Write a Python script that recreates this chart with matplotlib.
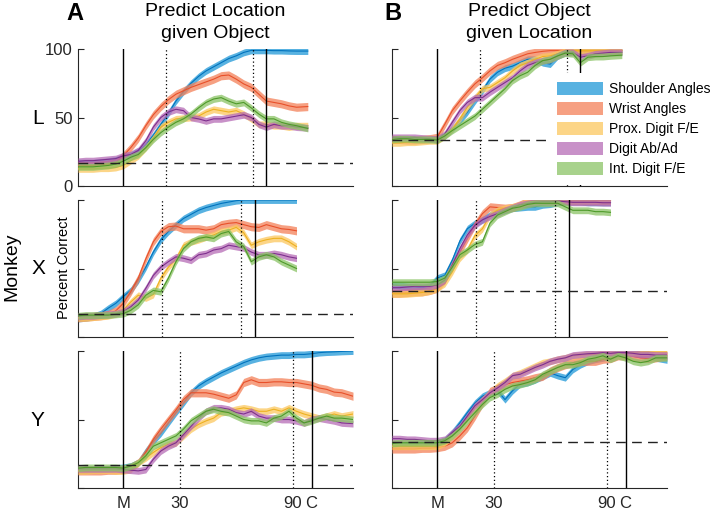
import matplotlib
matplotlib.use('Agg')
import matplotlib.pyplot as plt
from matplotlib.patches import Patch

plt.rcParams['font.family'] = ['Liberation Sans', 'DejaVu Sans']

# ---------------- data ----------------
SERIES = ['Shoulder Angles', 'Wrist Angles', 'Prox. Digit F/E', 'Digit Ab/Ad', 'Int. Digit F/E']
SEM = [2.5, 3.0, 2.5, 2.5, 2.5]

TIME_L = [-24, -20, -16, -12, -8, -4, 0, 4, 8, 12, 16, 20, 24, 28, 32, 36, 40,
          44, 48, 52, 56, 60, 64, 68, 72, 76, 80, 84, 88, 92, 98]
TIME_X = [-24, -20, -16, -12, -8, -4, 0, 4, 8, 12, 16, 20, 24, 28, 32, 36, 40,
          44, 48, 52, 56, 60, 64, 68, 72, 76, 80, 84, 88, 92]
TIME_Y = [-24, -20, -16, -12, -8, -4, 0, 4, 8, 12, 16, 20, 24, 28, 32, 36, 40,
          44, 48, 52, 56, 60, 64, 68, 72, 76, 80, 84, 88, 92, 96, 100, 104, 108, 112, 116, 122]

# event markers per monkey: solid lines and dotted lines
SOLID_L, DOTTED_L = [0, 76], [22.5, 68.7]
SOLID_X, DOTTED_X = [0, 70.1], [20.7, 62.7]
SOLID_Y, DOTTED_Y = [0, 100], [30, 90]
CHANCE_A = 16.7
CHANCE_B = 33.3

X_TICKS = [0, 30, 90, 100]
X_TICKLABELS = ['M', '30', '90', 'C']
Y_TICKS = [0, 50, 100]

# Panel A: Predict Location given Object
A_L_shoulder = [17, 17, 17, 17.5, 18, 19, 21, 22.5, 25.5, 30, 37, 45, 53, 62, 69, 75, 80,
                84, 87, 90, 93, 95, 97.5, 99, 99, 99, 98.8, 98.8, 98.6, 98.5, 98.5]
A_L_wrist = [15, 15, 15, 15.5, 16, 17, 22, 28, 35, 44, 52, 58, 63, 67, 69.5, 72, 74,
             76, 78, 80.5, 81, 78, 74.5, 72, 67, 62, 61, 60, 58.5, 57.5, 58]
A_L_prox = [12.5, 12.5, 12.5, 13, 13, 13.5, 15, 18.5, 22, 28, 35, 43, 46.5, 49, 49.5, 50, 51,
            54, 56, 55, 54, 55, 52.5, 49, 45, 45, 44, 44, 43, 44, 44]
A_L_abad = [18, 18.5, 18.5, 19, 19.5, 20, 22, 23, 26, 33, 43, 50, 54, 56, 55, 50, 49,
            47.5, 49, 49, 50, 51, 52, 50, 45, 43, 45, 44, 44, 43, 42.5]
A_L_int = [14, 14, 14, 14.5, 15, 16, 18, 21, 23, 28, 34, 39, 43, 46.5, 49, 52.5, 57,
           61, 63.5, 64.5, 62, 60, 61, 57, 52.5, 49, 49, 46.5, 45, 44, 42]

A_X_shoulder = [13.5, 14, 15, 17, 21, 24.5, 29.5, 34, 41.5, 51, 62, 71, 77, 82, 86.5, 89.5, 92.5,
                94.5, 96, 97.5, 98.5, 99.5, 100, 100, 100, 100, 100, 100, 100, 100]
A_X_wrist = [14, 14.5, 15, 15.5, 16.5, 19, 24.5, 33, 43, 57, 69.5, 77, 80.5, 81, 79, 79, 79,
             78, 79, 82, 83, 83.5, 82, 80.5, 80, 82, 80.5, 79, 78.5, 77.5]
A_X_prox = [14, 14, 14.5, 15, 15.5, 17, 19.5, 25.5, 30.5, 28.5, 31, 43, 51, 57, 67, 69.5, 71,
            73, 74.5, 77, 78, 80, 76, 67, 69.5, 71, 72, 72, 69.5, 66]
A_X_abad = [15, 15.5, 15.5, 16, 16.5, 17, 18.5, 22, 27, 35.5, 45, 51, 55, 58.5, 57.5, 56, 60,
            61, 63.5, 64.5, 67, 66, 65, 62, 60, 60, 61, 60, 58.5, 57.5]
A_X_int = [15.5, 16, 16, 16, 16, 16.5, 17, 19.5, 23.5, 30.5, 34, 33, 43, 55, 64.5, 69.5, 72,
           73, 72, 75.5, 77, 69.5, 66, 55, 58.5, 60, 58.5, 55, 52.5, 50]

A_Y_shoulder = [13, 13, 13.5, 13.5, 14, 14.5, 15, 16, 18.5, 27, 34, 40, 47.5, 55, 62, 69.5, 74.5,
                78, 81, 84, 86.5, 89, 91.5, 93.5, 95, 96, 96.5,
                97, 97, 97.5, 97.5, 98, 98.8, 99.2, 99.4, 99.7, 100]
A_Y_wrist = [12.5, 12.5, 12.5, 12.5, 13, 13, 13.5, 15, 18.5, 26, 35.5, 43, 50, 57, 64.5, 69.5, 69.5,
             69.5, 68.5, 67, 65.5, 68, 77, 79, 77, 77, 77.5,
             77.5, 77, 77, 76, 75, 73, 72, 70, 69.5, 67]
A_Y_prox = [12.5, 12.5, 13, 13, 13, 12.5, 12.5, 13.5, 18.5, 22, 26, 29.5, 32, 33, 38, 43, 46.5,
            49, 51, 55, 56, 57.5, 58.5, 57.5, 56, 56, 57.5,
            56, 58.5, 56, 54, 52.5, 51, 52.5, 54, 52.5, 54]
A_Y_abad = [14, 14, 14, 14, 14, 14, 13.5, 13, 12.5, 13.5, 21, 27, 30.5, 33, 39, 45, 51,
            56, 58.5, 58.5, 57.5, 55, 54, 56, 52.5, 51, 51,
            50, 50, 49, 47.5, 50, 51, 50, 49, 47.5, 47]
A_Y_int = [14.5, 15, 15, 15, 15, 15, 14.5, 16, 18.5, 23.5, 30.5, 33, 35.5, 38, 43, 49, 52.5,
           56, 57.5, 56, 55, 52.5, 50, 49, 49, 47.5, 51,
           52.5, 56, 51, 47.5, 49, 51, 52.5, 51, 51, 50]

# Panel B: Predict Object given Location
B_L_shoulder = [34, 34, 34, 34, 34, 34, 34.5, 36.5, 41.5, 47.5, 54, 62, 69.5, 78, 83, 86, 87.5,
                90, 92.5, 92.5, 90, 89, 95, 97.5, 98.3, 98.3, 98.3, 98.5, 98.5, 98.5, 98.5]
B_L_wrist = [34, 34, 33.5, 33.5, 34, 34.5, 35.5, 45, 55, 62, 68.5, 74.5, 79, 84, 88, 90, 92.5,
             94.5, 96.5, 97.5, 98.3, 98.8, 98.8, 98.8, 98.8, 98.3, 98.3, 98.8, 98.8, 98.8, 98.8]
B_L_prox = [31.5, 31.5, 32, 32, 32.5, 33, 33, 36.5, 41.5, 49, 57.5, 64.5, 71, 72, 75.5, 79, 84,
            88, 90, 92.5, 94.5, 95, 96.5, 98.3, 98.8, 98.8, 98.8, 98.8, 98.8, 99, 99]
B_L_abad = [35.5, 35.5, 35.5, 35.5, 35, 34.5, 34, 38, 46.5, 55, 61, 64.5, 64.5, 68.5, 72, 75.5, 79,
            84, 88, 90, 91.5, 92.5, 95, 97.5, 97.5, 94, 95, 96.5, 97, 97.5, 97.5]
B_L_int = [34, 34.5, 34.5, 34, 34, 34, 33.5, 36.5, 40.5, 44, 47.5, 51, 56, 61, 66, 71, 77,
           80.5, 83, 88, 91.5, 92.5, 95, 97, 96.5, 90, 94, 94.5, 94.5, 95, 95.5]

B_X_shoulder = [38, 37.5, 37, 36.5, 36, 37, 43, 45, 56, 70, 79, 83, 85.5, 89, 91.5, 92.5, 94,
                94.5, 95, 95, 96.5, 97, 98.3, 98.8, 98.8, 98.8, 98.3, 98.3, 98.3, 98.3]
B_X_wrist = [32, 32, 32.5, 33, 33, 34, 35.5, 41.5, 52.5, 62, 72, 82, 90, 95, 94.5, 94, 94.5,
             96.5, 99, 99.5, 99.5, 99.5, 99.5, 99.5, 99.5, 99.5, 99.5, 99.5, 99.5, 99.5]
B_X_prox = [31.5, 31.5, 31.5, 32, 32.5, 33.5, 35.5, 39, 47.5, 57.5, 63.5, 74, 79, 89, 92.5, 94, 95,
            96.5, 98.8, 99.5, 99.7, 99.7, 99.7, 99.7, 99.7, 99.7, 99.7, 99.7, 99.7, 99.7]
B_X_abad = [36, 36, 36.5, 37, 37, 37, 38, 41.5, 52.5, 64.5, 74.5, 81.5, 85.5, 88, 90, 92.5, 94.5,
            96.5, 97.5, 98.3, 98.8, 98.8, 99.2, 98.8, 98.3, 98.3, 98.3, 98.3, 98, 98]
B_X_int = [40, 40, 40, 40, 40, 40, 40.5, 43, 51, 60, 63.5, 67.5, 69.5, 83, 89, 91.5, 94,
           95, 96.8, 97.6, 97.6, 97.6, 97.6, 95, 92.5, 92.5, 92.5, 91.5, 91.5, 91]

B_Y_shoulder = [31, 31, 31.5, 31.5, 32, 32, 32.5, 35, 40.5, 47.5, 55, 62, 67, 69.5, 71, 64.5, 71,
                76, 77, 79, 81.5, 84, 82, 80.5, 86.5, 90, 92.5,
                94, 95, 96.5, 98.3, 98.8, 98.8, 97.5, 97.5, 95, 93.5]
B_Y_wrist = [28.5, 28.5, 28.5, 28.5, 29, 29, 29.5, 30.5, 33, 38, 44, 52.5, 62, 70.5, 73, 75.5, 77,
             78, 79, 80.5, 81.5, 85.5, 88, 90, 91.5, 92.5, 92.5,
             92.5, 94, 94.5, 96.5, 96.5, 96, 95, 94.5, 95, 96.5]
B_Y_prox = [30.5, 30.5, 30.5, 30.5, 30.5, 30.5, 30.5, 33, 38, 44, 51, 58.5, 64.5, 69.5, 74.5, 78, 82,
            84, 86.5, 89, 91.5, 92.5, 94, 95, 96.5, 97, 97.5,
            97.5, 98.3, 98.3, 98.8, 98.8, 98.8, 99.2, 99.2, 99.2, 99.2]
B_Y_abad = [36, 36, 35.5, 35.5, 35, 34.5, 34.5, 35.5, 40.5, 45, 52.5, 60, 64.5, 69.5, 73, 77, 82,
            83, 85.5, 88, 90, 92.5, 94, 95, 97, 97.5, 98,
            98.3, 98.8, 98.3, 98.8, 98.8, 98.3, 97.5, 97.5, 97, 97]
B_Y_int = [32.5, 33, 33, 33, 33, 33, 33, 34.5, 38, 43, 49, 55, 61, 66, 68.5, 72, 74.5,
           75.5, 77, 79, 83, 85.5, 88, 90, 90, 91.5, 94,
           95, 96.5, 94, 96.5, 95, 92.5, 91.5, 92.5, 95, 95]

# ---------------- style ----------------
LINE_COLORS = ['#0072BD', '#E8502A', '#EDB120', '#7E2F8E', '#4E9A2A']
BAND_COLORS = ['#2098D8', '#F38058', '#FBC85F', '#B66CB6', '#8BC366']
BAND_ALPHA = 0.75

W, H = 718, 516
fig = plt.figure(figsize=(W / 100, H / 100), dpi=100)
fig.patch.set_facecolor('white')

rows = [
    dict(t=TIME_L, top=49, bot=186, solid=SOLID_L, dotted=DOTTED_L,
         A=[A_L_shoulder, A_L_wrist, A_L_prox, A_L_abad, A_L_int],
         B=[B_L_shoulder, B_L_wrist, B_L_prox, B_L_abad, B_L_int]),
    dict(t=TIME_X, top=200, bot=337, solid=SOLID_X, dotted=DOTTED_X,
         A=[A_X_shoulder, A_X_wrist, A_X_prox, A_X_abad, A_X_int],
         B=[B_X_shoulder, B_X_wrist, B_X_prox, B_X_abad, B_X_int]),
    dict(t=TIME_Y, top=351, bot=488, solid=SOLID_Y, dotted=DOTTED_Y,
         A=[A_Y_shoulder, A_Y_wrist, A_Y_prox, A_Y_abad, A_Y_int],
         B=[B_Y_shoulder, B_Y_wrist, B_Y_prox, B_Y_abad, B_Y_int]),
]
cols = [dict(key='A', left=78, chance=CHANCE_A), dict(key='B', left=392, chance=CHANCE_B)]
AX_W = 275

axes = {}
for ri, row in enumerate(rows):
    for ci, col in enumerate(cols):
        l = col['left']
        ax = fig.add_axes([l / W, 1 - row['bot'] / H, AX_W / W, (row['bot'] - row['top']) / H])
        axes[(ri, ci)] = ax
        t = row['t']
        for si, vals in enumerate(row[col['key']]):
            lo = [v - SEM[si] for v in vals]
            hi = [v + SEM[si] for v in vals]
            ax.fill_between(t, lo, hi, color=BAND_COLORS[si], alpha=BAND_ALPHA,
                            linewidth=0, zorder=2 + si)
            ax.plot(t, vals, color=LINE_COLORS[si], lw=0.8, zorder=2.5 + si)
        for xv in row['solid']:
            ax.axvline(xv, color='black', lw=1.0, zorder=10)
        for xv in row['dotted']:
            ax.axvline(xv, color='black', lw=0.9, dashes=(1, 2), zorder=10)
        ax.axhline(col['chance'], color='#222222', lw=1.0, dashes=(7, 4.5), zorder=10)

        ax.set_xlim(-24, 122)
        ax.set_ylim(0, 100)
        for s in ['top', 'right']:
            ax.spines[s].set_visible(False)
        for s in ['left', 'bottom']:
            ax.spines[s].set_linewidth(0.8)
            ax.spines[s].set_color('#262626')
        ax.set_yticks(Y_TICKS)
        ax.tick_params(axis='y', direction='in', length=4, width=0.8, labelsize=12, pad=4,
                       colors='#262626')
        if not (ri == 0 and ci == 0):
            ax.set_yticklabels([])
        ax.set_xticks(X_TICKS)
        ax.tick_params(axis='x', length=0, labelsize=12, pad=6, colors='#262626')
        if ri == 2:
            ax.set_xticklabels(X_TICKLABELS)
        else:
            ax.set_xticklabels([])

# legend
handles = [Patch(facecolor=c, alpha=BAND_ALPHA, edgecolor='none') for c in BAND_COLORS]
leg = axes[(0, 1)].legend(handles, SERIES, loc='upper left',
                          bbox_to_anchor=((557 - 9) / W, 1 - (82 - 9) / H),
                          bbox_transform=fig.transFigure, fontsize=10,
                          handlelength=3.3, handleheight=1.1, handletextpad=0.45,
                          labelspacing=0.4, borderpad=0.65, borderaxespad=0,
                          frameon=True, fancybox=False, framealpha=1)
leg.get_frame().set_edgecolor('none')
leg.get_frame().set_facecolor('white')
leg.set_zorder(20)

def ftext(x, y, s, **kw):
    fig.text(x / W, 1 - y / H, s, ha='center', va='center', **kw)

ftext(75, 14, 'A', fontsize=17, fontweight='bold')
ftext(393, 14, 'B', fontsize=17, fontweight='bold')
ftext(215, 12, 'Predict Location', fontsize=14)
ftext(215, 34, 'given Object', fontsize=14)
ftext(529, 12, 'Predict Object', fontsize=14)
ftext(529, 34, 'given Location', fontsize=14)
ftext(38, 118, 'L', fontsize=15)
ftext(38, 269, 'X', fontsize=15)
ftext(37, 420, 'Y', fontsize=15)
ftext(12, 267, 'Monkey', fontsize=14, rotation=90)
ftext(64, 268, 'Percent Correct', fontsize=10.5, rotation=90)

fig.savefig('out.png', dpi=100, facecolor='white')
